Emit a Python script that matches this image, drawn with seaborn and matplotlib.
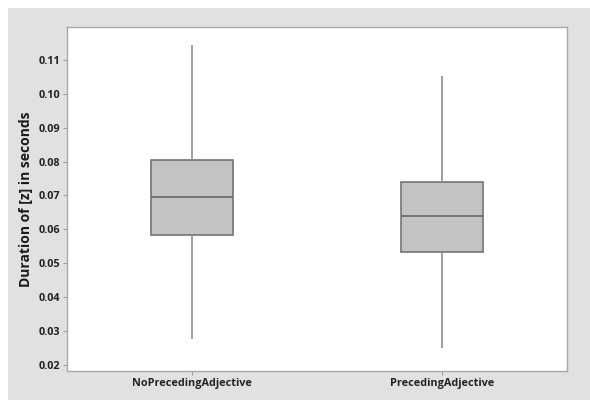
import matplotlib
matplotlib.use("Agg")
import matplotlib.pyplot as plt
import seaborn as sns
import pandas as pd
from matplotlib.patches import Rectangle

# Five-number summaries (min, Q1, median, Q3, max)
categories = ["NoPrecedingAdjective", "PrecedingAdjective"]
no_adj = [0.0275, 0.0584, 0.0695, 0.0805, 0.1144]
adj = [0.0251, 0.0532, 0.0640, 0.0740, 0.1053]
y_ticks = [0.02, 0.03, 0.04, 0.05, 0.06, 0.07, 0.08, 0.09, 0.10, 0.11]
y_label = "Duration of [z] in seconds"

df = pd.DataFrame({
    "group": [categories[0]] * len(no_adj) + [categories[1]] * len(adj),
    "value": no_adj + adj,
})

sns.set_theme(style="white")
plt.rcParams["font.family"] = ["Open Sans", "DejaVu Sans"]

fig = plt.figure(figsize=(5.9, 4.0), dpi=100)
fig.patch.set_facecolor("white")
fig.patches.append(Rectangle((8 / 590, 0), 1, 1 - 8 / 400, transform=fig.transFigure,
                             facecolor="#e1e1e1", edgecolor="none", zorder=-10))
ax = fig.add_axes([67 / 590, 1 - 371 / 400, 500 / 590, 344 / 400])
ax.set_facecolor("white")

sns.boxplot(data=df, x="group", y="value", order=categories, ax=ax,
            whis=(0, 100), width=0.33, color="#c3c3c3", showcaps=False,
            linecolor="#7a7a7a", linewidth=1.2, fliersize=0,
            boxprops=dict(facecolor="#c3c3c3", edgecolor="#737373"),
            medianprops=dict(color="#666666", linewidth=1.2),
            whiskerprops=dict(color="#8f8f8f", linewidth=1.2))

ax.set_xlim(-0.5, 1.5)
ax.set_ylim(0.0182, 0.1197)
ax.set_yticks(y_ticks)
ax.set_yticklabels([f"{t:.2f}" for t in y_ticks])
ax.set_xlabel("")
ax.set_ylabel(y_label, fontsize=10, fontweight="bold", color="#1a1a1a", labelpad=4)
ax.tick_params(axis="both", which="both", direction="out", length=3, width=0.8,
               color="#9a9a9a", labelsize=7.8, labelcolor="#222222", pad=2,
               left=True, bottom=True)
for lab in ax.get_xticklabels() + ax.get_yticklabels():
    lab.set_fontweight("bold")
for s in ax.spines.values():
    s.set_color("#a8a8a8")
    s.set_linewidth(1.0)

fig.savefig("out.png", dpi=100, facecolor=fig.get_facecolor())
